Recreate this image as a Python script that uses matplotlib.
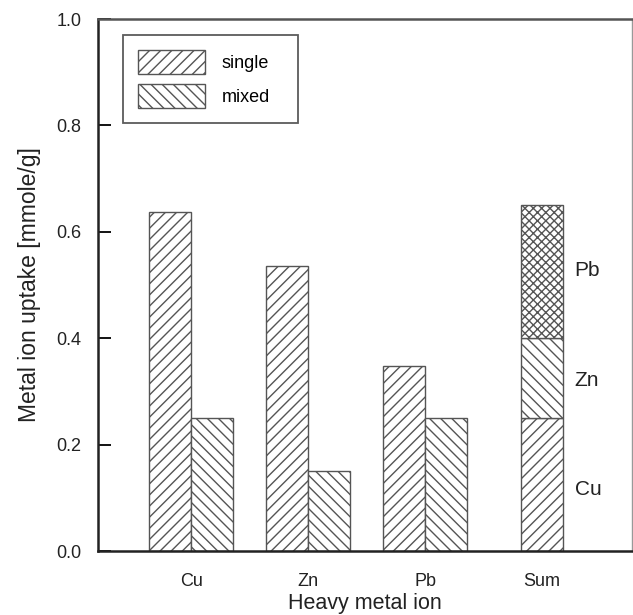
import matplotlib
matplotlib.use("Agg")
import matplotlib.pyplot as plt
import numpy as np

plt.rcParams['font.family'] = ['Liberation Sans', 'DejaVu Sans']
plt.rcParams['hatch.color'] = '#666666'
plt.rcParams['hatch.linewidth'] = 1.0

categories = ['Cu', 'Zn', 'Pb', 'Sum']
single = [0.637, 0.536, 0.347]
mixed = [0.25, 0.15, 0.25]
sum_parts = [0.25, 0.15, 0.25]   # Cu, Zn, Pb
sum_labels = ['Cu', 'Zn', 'Pb']
sum_hatches = ['///', '\\\\\\', 'xxxx']
yticks = [0.0, 0.2, 0.4, 0.6, 0.8, 1.0]

fig = plt.figure(figsize=(6.33, 6.15), dpi=100)
ax = fig.add_axes([98/633, 1 - 551/615, (632-98)/633, (551-19)/615])

w = 0.36
x = np.arange(3)
edge = '#555555'
ax.bar(x - w/2, single, width=w, facecolor='white', edgecolor=edge, hatch='///', linewidth=1, label='single')
ax.bar(x + w/2, mixed, width=w, facecolor='white', edgecolor=edge, hatch='\\\\\\', linewidth=1, label='mixed')

bottom = 0
for v, h in zip(sum_parts, sum_hatches):
    ax.bar(3, v, bottom=bottom, width=w, facecolor='white', edgecolor=edge, hatch=h, linewidth=1)
    bottom += v

label_y = [0.115, 0.321, 0.528]
for lab, yy in zip(sum_labels, label_y):
    ax.text(3.28, yy, lab, fontsize=15, va='center', ha='left', color='#222222')

ax.set_xlim(-0.797, 3.77)
ax.set_ylim(0, 1.0)
ax.set_yticks(yticks)
ax.set_yticklabels([f'{t:.1f}' for t in yticks], fontsize=13, color='#222222')
ax.set_xticks(np.arange(4))
ax.set_xticklabels(categories, fontsize=13, color='#222222')
ax.tick_params(axis='y', direction='in', length=9, width=1.3, pad=12)
ax.tick_params(axis='x', length=0, pad=16)
for s in ax.spines.values():
    s.set_linewidth(1.8)
    s.set_color('#222222')
ax.spines['top'].set_color('#555555')
ax.spines['right'].set_linewidth(1.0)
ax.spines['right'].set_color('#999999')

ax.set_xlabel('Heavy metal ion', fontsize=15.5, labelpad=2, color='#222222')
ax.set_ylabel('Metal ion uptake [mmole/g]', fontsize=16.5, labelpad=11, color='#222222')

leg = ax.legend(loc='upper left', bbox_to_anchor=(0.047, 0.970, 0.328, 0.0),
                mode='expand', fontsize=13,
                handlelength=3.7, handleheight=1.6, handletextpad=0.9,
                labelspacing=0.6, borderpad=0.85, borderaxespad=0,
                fancybox=False, frameon=True)
leg.get_frame().set_edgecolor('#333333')
leg.get_frame().set_linewidth(1.3)

fig.savefig('out.png', dpi=100)
